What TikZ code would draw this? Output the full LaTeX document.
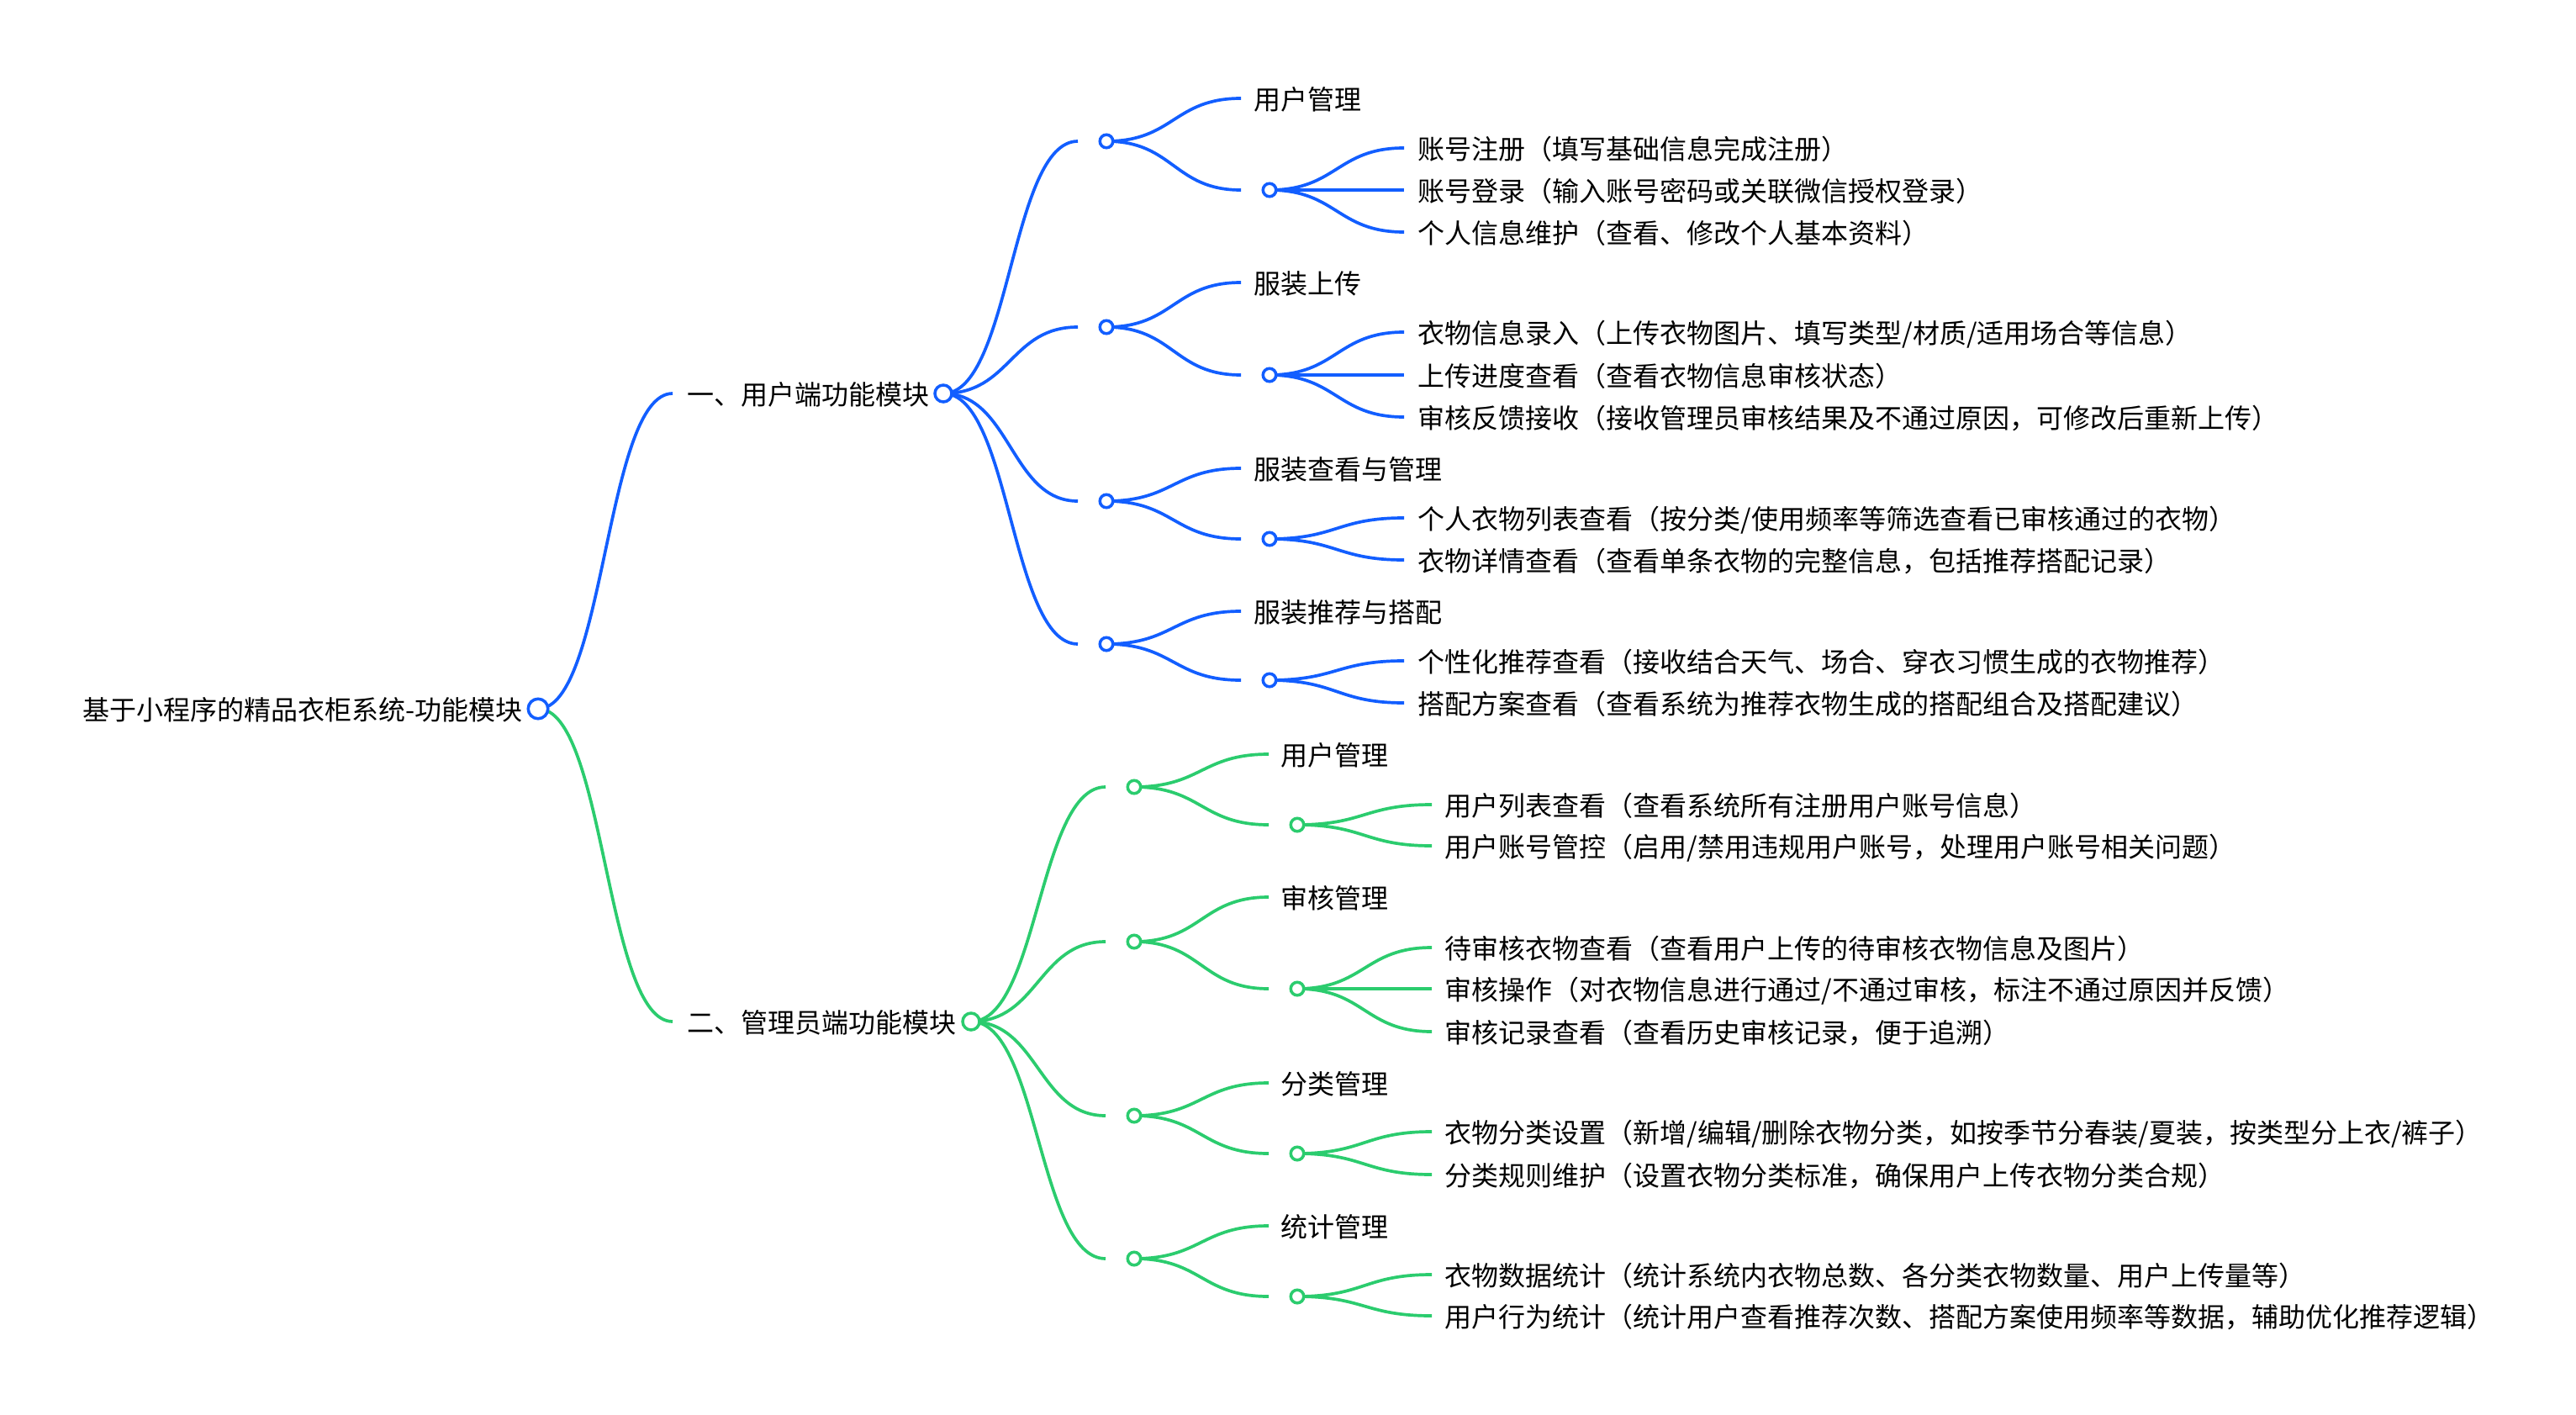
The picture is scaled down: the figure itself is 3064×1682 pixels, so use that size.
\documentclass[tikz,border=0pt]{standalone}
\usepackage{fontspec}
\setmainfont{Noto Sans CJK SC}
\definecolor{mblue}{RGB}{18,94,255}
\definecolor{mgreen}{RGB}{43,204,110}
\pgfdeclarelayer{bg}
\pgfsetlayers{bg,main}
\tikzset{
  link/.style={line width=1.05pt},
  dot/.style={circle, draw, fill=white, line width=1pt, inner sep=0pt, minimum size=#1},
  txt/.style={anchor=west, inner sep=0pt, text height=0.88em, text depth=0.12em, text=black,
    font=\fontsize{9.1pt}{11pt}\selectfont},
}
\begin{document}
\begin{tikzpicture}[x=0.01cm,y=-0.01cm]
\useasboundingbox (0,0) rectangle (3064,1682);

% root
\node[dot=0.235cm, draw=mblue] (root) at (640,843) {};
\node[txt, anchor=east] (troot) at (622,843) {基于小程序的精品衣柜系统-功能模块};

% ===== blue: user side =====
\coordinate (eU) at (800,468);
\node[txt] (tU) at (817,468) {一、用户端功能模块};
\node[dot=0.2cm, draw=mblue] (U) at (1122,468) {};

% U1
\coordinate (eU1) at (1282,168); \node[dot=0.155cm, draw=mblue] (U1) at (1316,168) {};
\coordinate (eU1a) at (1476,117); \node[txt] (tU1a) at (1491,117) {用户管理};
\coordinate (eU1b) at (1476,226); \node[dot=0.155cm, draw=mblue] (U1b) at (1510,226) {};
\coordinate (eU1b1) at (1670,176); \node[txt] (tU1b1) at (1686,176) {账号注册（填写基础信息完成注册）};
\coordinate (eU1b2) at (1670,226); \node[txt] (tU1b2) at (1686,226) {账号登录（输入账号密码或关联微信授权登录）};
\coordinate (eU1b3) at (1670,276); \node[txt] (tU1b3) at (1686,276) {个人信息维护（查看、修改个人基本资料）};

% U2
\coordinate (eU2) at (1282,389); \node[dot=0.155cm, draw=mblue] (U2) at (1316,389) {};
\coordinate (eU2a) at (1476,336); \node[txt] (tU2a) at (1491,336) {服装上传};
\coordinate (eU2b) at (1476,446); \node[dot=0.155cm, draw=mblue] (U2b) at (1510,446) {};
\coordinate (eU2b1) at (1670,395); \node[txt] (tU2b1) at (1686,395) {衣物信息录入（上传衣物图片、填写类型/材质/适用场合等信息）};
\coordinate (eU2b2) at (1670,446); \node[txt] (tU2b2) at (1686,446) {上传进度查看（查看衣物信息审核状态）};
\coordinate (eU2b3) at (1670,496); \node[txt] (tU2b3) at (1686,496) {审核反馈接收（接收管理员审核结果及不通过原因，可修改后重新上传）};

% U3
\coordinate (eU3) at (1282,596); \node[dot=0.155cm, draw=mblue] (U3) at (1316,596) {};
\coordinate (eU3a) at (1476,557); \node[txt] (tU3a) at (1491,557) {服装查看与管理};
\coordinate (eU3b) at (1476,641); \node[dot=0.155cm, draw=mblue] (U3b) at (1510,641) {};
\coordinate (eU3b1) at (1670,616); \node[txt] (tU3b1) at (1686,616) {个人衣物列表查看（按分类/使用频率等筛选查看已审核通过的衣物）};
\coordinate (eU3b2) at (1670,666); \node[txt] (tU3b2) at (1686,666) {衣物详情查看（查看单条衣物的完整信息，包括推荐搭配记录）};

% U4
\coordinate (eU4) at (1282,766); \node[dot=0.155cm, draw=mblue] (U4) at (1316,766) {};
\coordinate (eU4a) at (1476,727); \node[txt] (tU4a) at (1491,727) {服装推荐与搭配};
\coordinate (eU4b) at (1476,809); \node[dot=0.155cm, draw=mblue] (U4b) at (1510,809) {};
\coordinate (eU4b1) at (1670,786); \node[txt] (tU4b1) at (1686,786) {个性化推荐查看（接收结合天气、场合、穿衣习惯生成的衣物推荐）};
\coordinate (eU4b2) at (1670,836); \node[txt] (tU4b2) at (1686,836) {搭配方案查看（查看系统为推荐衣物生成的搭配组合及搭配建议）};

% ===== green: admin side =====
\coordinate (eA) at (800,1215);
\node[txt] (tA) at (817,1215) {二、管理员端功能模块};
\node[dot=0.2cm, draw=mgreen] (A) at (1155,1215) {};

% A1
\coordinate (eA1) at (1315,936); \node[dot=0.155cm, draw=mgreen] (A1) at (1349,936) {};
\coordinate (eA1a) at (1509,897); \node[txt] (tA1a) at (1523,897) {用户管理};
\coordinate (eA1b) at (1509,981); \node[dot=0.155cm, draw=mgreen] (A1b) at (1543,981) {};
\coordinate (eA1b1) at (1703,957); \node[txt] (tA1b1) at (1718,957) {用户列表查看（查看系统所有注册用户账号信息）};
\coordinate (eA1b2) at (1703,1006); \node[txt] (tA1b2) at (1718,1006) {用户账号管控（启用/禁用违规用户账号，处理用户账号相关问题）};

% A2
\coordinate (eA2) at (1315,1120); \node[dot=0.155cm, draw=mgreen] (A2) at (1349,1120) {};
\coordinate (eA2a) at (1509,1067); \node[txt] (tA2a) at (1523,1067) {审核管理};
\coordinate (eA2b) at (1509,1176); \node[dot=0.155cm, draw=mgreen] (A2b) at (1543,1176) {};
\coordinate (eA2b1) at (1703,1127); \node[txt] (tA2b1) at (1718,1127) {待审核衣物查看（查看用户上传的待审核衣物信息及图片）};
\coordinate (eA2b2) at (1703,1176); \node[txt] (tA2b2) at (1718,1176) {审核操作（对衣物信息进行通过/不通过审核，标注不通过原因并反馈）};
\coordinate (eA2b3) at (1703,1227); \node[txt] (tA2b3) at (1718,1227) {审核记录查看（查看历史审核记录，便于追溯）};

% A3
\coordinate (eA3) at (1315,1327); \node[dot=0.155cm, draw=mgreen] (A3) at (1349,1327) {};
\coordinate (eA3a) at (1509,1288); \node[txt] (tA3a) at (1523,1288) {分类管理};
\coordinate (eA3b) at (1509,1372); \node[dot=0.155cm, draw=mgreen] (A3b) at (1543,1372) {};
\coordinate (eA3b1) at (1703,1346); \node[txt] (tA3b1) at (1718,1346) {衣物分类设置（新增/编辑/删除衣物分类，如按季节分春装/夏装，按类型分上衣/裤子）};
\coordinate (eA3b2) at (1703,1397); \node[txt] (tA3b2) at (1718,1397) {分类规则维护（设置衣物分类标准，确保用户上传衣物分类合规）};

% A4
\coordinate (eA4) at (1315,1497); \node[dot=0.155cm, draw=mgreen] (A4) at (1349,1497) {};
\coordinate (eA4a) at (1509,1458); \node[txt] (tA4a) at (1523,1458) {统计管理};
\coordinate (eA4b) at (1509,1542); \node[dot=0.155cm, draw=mgreen] (A4b) at (1543,1542) {};
\coordinate (eA4b1) at (1703,1516); \node[txt] (tA4b1) at (1718,1516) {衣物数据统计（统计系统内衣物总数、各分类衣物数量、用户上传量等）};
\coordinate (eA4b2) at (1703,1565); \node[txt] (tA4b2) at (1718,1565) {用户行为统计（统计用户查看推荐次数、搭配方案使用频率等数据，辅助优化推荐逻辑）};

% ===== links =====
\begin{pgfonlayer}{bg}
\fill[white] (0,0) rectangle (3064,1682);
\begin{scope}[link, draw=mblue]
\draw (root.center) .. controls +(80,0) and +(-80,0) .. (eU);
\foreach \k in {1,2,3,4}{
  \draw (U.center) .. controls +(80,0) and +(-80,0) .. (eU\k);
  \draw (U\k.center) .. controls +(80,0) and +(-80,0) .. (eU\k a);
  \draw (U\k.center) .. controls +(80,0) and +(-80,0) .. (eU\k b);
}
\foreach \k/\n in {1/3,2/3,3/2,4/2}{
  \foreach \j in {1,...,\n}{
    \draw (U\k b.center) .. controls +(80,0) and +(-80,0) .. (eU\k b\j);
  }
}
\end{scope}
\begin{scope}[link, draw=mgreen]
\draw (root.center) .. controls +(80,0) and +(-80,0) .. (eA);
\foreach \k in {1,2,3,4}{
  \draw (A.center) .. controls +(80,0) and +(-80,0) .. (eA\k);
  \draw (A\k.center) .. controls +(80,0) and +(-80,0) .. (eA\k a);
  \draw (A\k.center) .. controls +(80,0) and +(-80,0) .. (eA\k b);
}
\foreach \k/\n in {1/2,2/3,3/2,4/2}{
  \foreach \j in {1,...,\n}{
    \draw (A\k b.center) .. controls +(80,0) and +(-80,0) .. (eA\k b\j);
  }
}
\end{scope}
\end{pgfonlayer}
\end{tikzpicture}
\end{document}
